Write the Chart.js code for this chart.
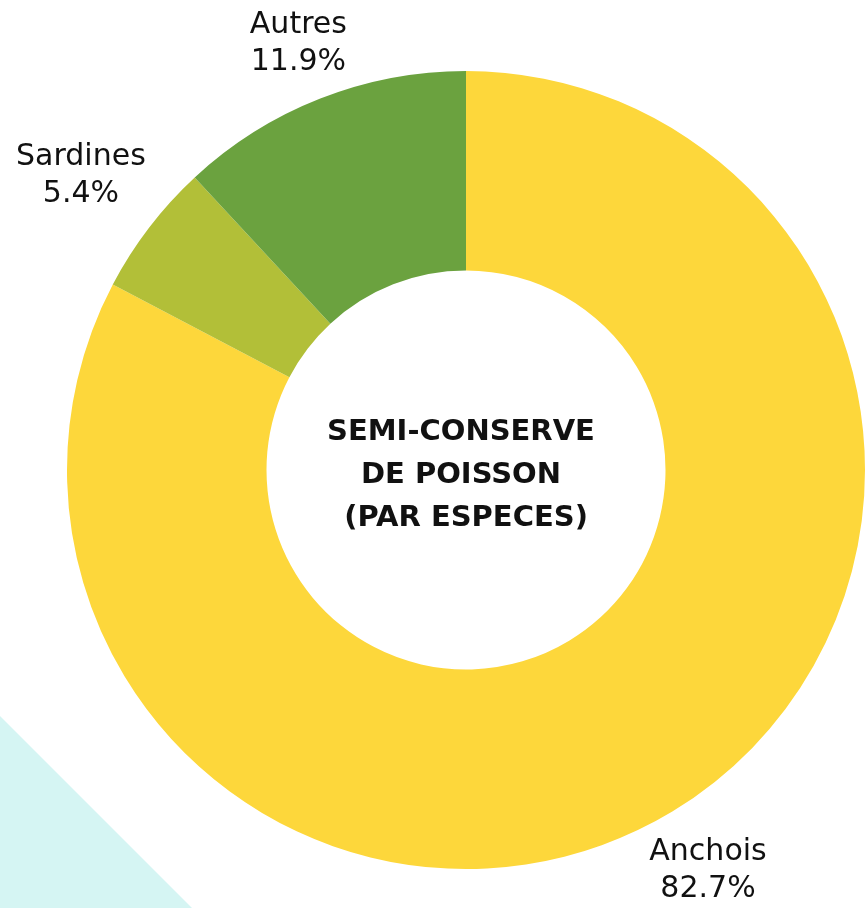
<!DOCTYPE html>
<html>
<head>
<meta charset="utf-8">
<script src="https://cdn.jsdelivr.net/npm/chart.js@4.4.0/dist/chart.umd.min.js"></script>
<style>
  html, body { margin: 0; padding: 0; background: #fff; }
  #wrap { position: relative; width: 865px; height: 908px; overflow: hidden; }
  #corner {
    position: absolute; left: 0; bottom: 0; width: 192px; height: 192px;
    background: #d5f5f3;
    clip-path: polygon(0 0, 100% 100%, 0 100%);
  }
  canvas { position: absolute; left: 0; top: 0; }
</style>
</head>
<body>
<div id="wrap">
  <div id="corner"></div>
  <canvas id="donut" width="865" height="908"></canvas>
</div>
<script>
const categories = ["Anchois", "Sardines", "Autres"];
const shares = [82.7, 5.4, 11.9];
const sliceColors = ["#fdd73b", "#b2bf38", "#6ba23f"];
const centerLines = ["SEMI-CONSERVE", "DE POISSON", " (PAR ESPECES)"];
// how far outside the ring each label sits (px)
const labelGap = [69, 86, 60];

const labelFont = "30px 'DejaVu Sans', 'Open Sans', sans-serif";

// draws "Name / xx.x%" outside each slice, along its middle angle
const outsideLabels = {
  id: "outsideLabels",
  afterDraw(chart) {
    const ctx = chart.ctx;
    const arcs = chart.getDatasetMeta(0).data;
    ctx.save();
    ctx.font = labelFont;
    ctx.fillStyle = "#111";
    ctx.textAlign = "center";
    ctx.textBaseline = "middle";
    arcs.forEach((arc, i) => {
      const mid = (arc.startAngle + arc.endAngle) / 2;
      const dist = arc.outerRadius + labelGap[i];
      const x = arc.x + Math.cos(mid) * dist;
      const y = arc.y + Math.sin(mid) * dist;
      ctx.fillText(categories[i], x, y - 18);
      ctx.fillText(shares[i].toFixed(1) + "%", x, y + 19);
    });
    ctx.restore();
  },
};

// bold title in the hole
const centerTitle = {
  id: "centerTitle",
  afterDraw(chart) {
    const ctx = chart.ctx;
    const arc = chart.getDatasetMeta(0).data[0];
    ctx.save();
    ctx.font = "bold 29px 'DejaVu Sans', 'Open Sans', sans-serif";
    ctx.fillStyle = "#111";
    ctx.textAlign = "center";
    ctx.textBaseline = "middle";
    centerLines.forEach((line, i) => {
      ctx.fillText(line, arc.x - 5, arc.y - 38 + i * 43);
    });
    ctx.restore();
  },
};

const ctx = document.getElementById("donut").getContext("2d");
new Chart(ctx, {
  type: "doughnut",
  data: {
    labels: categories,
    datasets: [
      {
        data: shares,
        backgroundColor: sliceColors,
        borderWidth: 0,
      },
    ],
  },
  options: {
    responsive: false,
    animation: false,
    cutout: "50%",
    layout: { padding: { left: 67, right: 0, top: 71, bottom: 39 } },
    plugins: {
      legend: { display: false },
      tooltip: { enabled: false },
    },
  },
  plugins: [outsideLabels, centerTitle],
});
</script>
</body>
</html>
